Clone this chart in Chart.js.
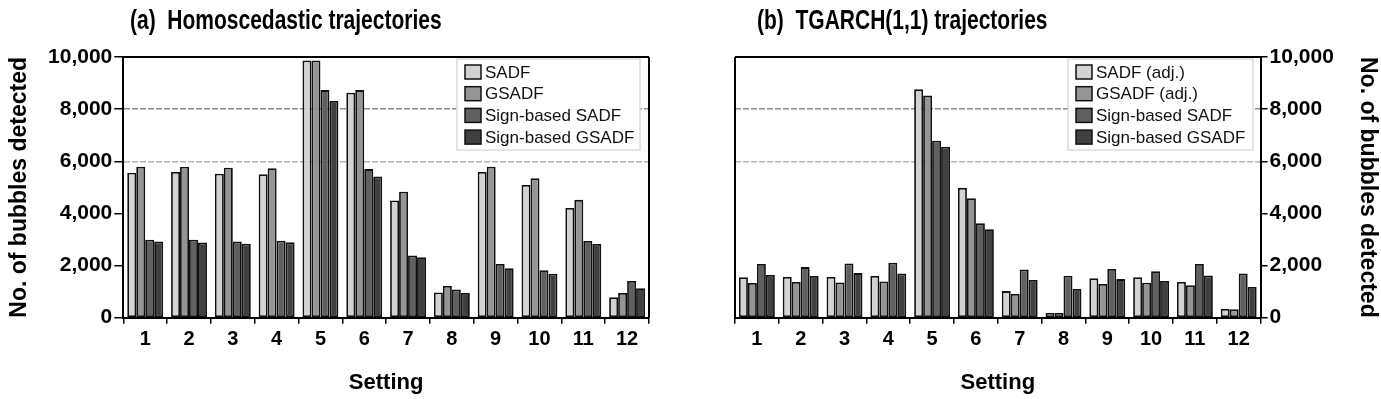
<!DOCTYPE html>
<html>
<head>
<meta charset="utf-8">
<script src="https://cdn.jsdelivr.net/npm/chart.js@4.4.1/dist/chart.umd.min.js"></script>
<style>
  body { margin: 0; background: #fff; }
  #wrap { position: relative; width: 1381px; height: 399px; }
  canvas { position: absolute; top: 0; }
  #cLeft { left: 0; }
  #cRight { left: 690px; }
</style>
</head>
<body>
<div id="wrap">
  <canvas id="cLeft" width="690" height="399"></canvas>
  <canvas id="cRight" width="691" height="399"></canvas>
</div>
<script>
// dados
const settings = ['1', '2', '3', '4', '5', '6', '7', '8', '9', '10', '11', '12'];

const homSADF      = [5560, 5590, 5520, 5500, 9870, 8630, 4500,  970, 5590, 5090, 4210,  780];
const homGSADF     = [5790, 5790, 5750, 5730, 9870, 8730, 4830, 1220, 5790, 5350, 4520,  950];
const homSignSADF  = [2990, 2990, 2920, 2950, 8730, 5700, 2390, 1080, 2060, 1820, 2940, 1410];
const homSignGSADF = [2920, 2880, 2840, 2890, 8310, 5420, 2320,  950, 1900, 1690, 2830, 1130];

const tgSADF      = [1550, 1560, 1560, 1600, 8760, 4980, 1020,  180, 1510, 1550, 1370,  340];
const tgGSADF     = [1330, 1370, 1350, 1390, 8520, 4580,  910,  180, 1290, 1340, 1240,  320];
const tgSignSADF  = [2060, 1940, 2080, 2110, 6790, 3620, 1850, 1610, 1870, 1780, 2060, 1700];
const tgSignGSADF = [1640, 1600, 1710, 1700, 6560, 3390, 1450, 1100, 1480, 1410, 1620, 1180];

const labelsHom = ['SADF', 'GSADF', 'Sign-based SADF', 'Sign-based GSADF'];
const labelsTg = ['SADF (adj.)', 'GSADF (adj.)', 'Sign-based SADF', 'Sign-based GSADF'];
const cores = ['#d3d3d3', '#959595', '#606060', '#404040'];

const FONTE = '"Liberation Sans", Arial, Helvetica, sans-serif';
Chart.defaults.font.family = FONTE;
Chart.defaults.color = '#000';

// moldura em cima e do lado oposto ao eixo
const molduraPlugin = {
    id: 'moldura',
    afterDraw(chart, args, opts) {
        const { ctx, chartArea: a } = chart;
        ctx.save();
        ctx.strokeStyle = '#000';
        ctx.lineWidth = 2;
        ctx.beginPath();
        ctx.moveTo(a.left, a.top); ctx.lineTo(a.right, a.top);
        const xLado = opts.lado === 'right' ? a.right : a.left;
        ctx.moveTo(xLado, a.top); ctx.lineTo(xLado, a.bottom);
        ctx.stroke();
        ctx.restore();
    }
};

// legenda em caixa dentro do grafico
const legendaPlugin = {
    id: 'legendaCaixa',
    afterDatasetsDraw(chart, args, opts) {
        const { ctx } = chart;
        ctx.save();
        ctx.fillStyle = '#fff';
        ctx.fillRect(opts.x, opts.y, opts.w, opts.h);
        ctx.strokeStyle = '#dcdcdc';
        ctx.lineWidth = 1.5;
        ctx.strokeRect(opts.x, opts.y, opts.w, opts.h);
        ctx.font = '17px ' + FONTE;
        ctx.textBaseline = 'middle';
        chart.data.datasets.forEach((ds, i) => {
            const cy = opts.y + 13 + i * 21.7;
            ctx.fillStyle = ds.backgroundColor;
            ctx.fillRect(opts.x + 8, cy - 7, 16, 14);
            ctx.strokeStyle = '#111';
            ctx.lineWidth = 1.5;
            ctx.strokeRect(opts.x + 8, cy - 7, 16, 14);
            ctx.fillStyle = '#111';
            ctx.fillText(ds.label, opts.x + 28, cy + 1);
        });
        ctx.restore();
    }
};

// titulo do painel (fonte estreita)
const tituloPlugin = {
    id: 'tituloPainel',
    afterDraw(chart, args, opts) {
        const { ctx } = chart;
        ctx.save();
        ctx.font = 'bold 28px ' + FONTE;
        ctx.fillStyle = '#000';
        ctx.textBaseline = 'middle';
        ctx.translate(opts.x, opts.y);
        ctx.scale(0.75, 1);
        ctx.fillText(opts.texto, 0, 0);
        ctx.restore();
    }
};

function corGrade(ctx) {
    const v = ctx.tick ? ctx.tick.value : null;
    if (v === 8000) return '#8c8c8c';
    if (v === 6000) return '#b4b4b4';
    return 'rgba(0,0,0,0)';
}

function montarGrafico(id, series, nomes, lado, padding, larguraY, legenda, titulo) {
    const datasets = series.map((s, i) => ({
        label: nomes[i],
        data: s,
        backgroundColor: cores[i],
        borderColor: '#111',
        borderWidth: 1.8,
        borderSkipped: false,
        categoryPercentage: 0.82,
        barPercentage: 1.0
    }));
    return new Chart(document.getElementById(id), {
        type: 'bar',
        data: { labels: settings, datasets: datasets },
        plugins: [molduraPlugin, legendaPlugin, tituloPlugin],
        options: {
            responsive: false,
            animation: false,
            devicePixelRatio: 1,
            layout: { padding: padding },
            plugins: {
                legend: { display: false },
                tooltip: { enabled: false },
                moldura: { lado: lado === 'left' ? 'right' : 'left' },
                legendaCaixa: legenda,
                tituloPainel: titulo
            },
            scales: {
                x: {
                    grid: { offset: true, drawOnChartArea: false, tickLength: 6, color: '#000', lineWidth: 1.5 },
                    border: { color: '#000', width: 2 },
                    ticks: { font: { size: 20, weight: 'bold' }, color: '#000', padding: 4 },
                    title: { display: true, text: 'Setting', font: { size: 22, weight: 'bold' }, color: '#000', padding: { top: 0, bottom: 3 } },
                    afterFit: s => { s.height = 81.3; }
                },
                y: {
                    position: lado,
                    min: 0,
                    max: 10000,
                    ticks: {
                        stepSize: 2000,
                        font: { size: 21, weight: 'bold' },
                        color: '#000',
                        padding: 2,
                        callback: v => v.toLocaleString('en-US')
                    },
                    grid: { color: corGrade, lineWidth: 1.5, tickColor: '#000', tickLength: lado === 'left' ? 9 : 7, tickWidth: 1.5 },
                    border: { color: '#000', width: 2, dash: [6, 2] },
                    title: { display: true, text: 'No. of bubbles detected', font: { size: 23, weight: 'bold' }, color: '#000', padding: { top: lado === 'left' ? 6 : 0, bottom: 0 } },
                    afterFit: s => { s.width = larguraY; }
                }
            }
        }
    });
}

montarGrafico('cLeft', [homSADF, homGSADF, homSignSADF, homSignGSADF], labelsHom, 'left',
    { top: 57, right: 41, left: 0, bottom: 0 }, 123.3,
    { x: 457, y: 59, w: 183, h: 91 },
    { x: 130, y: 21, texto: '(a)  Homoscedastic trajectories' });

montarGrafico('cRight', [tgSADF, tgGSADF, tgSignSADF, tgSignGSADF], labelsTg, 'right',
    { top: 57, right: 0, left: 45, bottom: 0 }, 120.4,
    { x: 378, y: 59, w: 185, h: 91 },
    { x: 67, y: 21, texto: '(b)  TGARCH(1,1) trajectories' });
</script>
</body>
</html>
